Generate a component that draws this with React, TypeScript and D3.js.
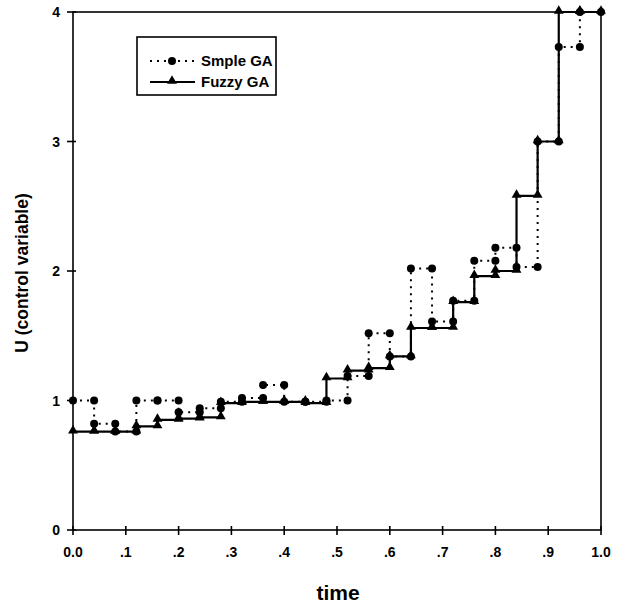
import React from "react";
import * as d3 from "d3";

const timeSteps = [0, 0.04, 0.08, 0.12, 0.16, 0.2, 0.24, 0.28, 0.32, 0.36, 0.4, 0.44, 0.48, 0.52, 0.56, 0.6, 0.64, 0.68, 0.72, 0.76, 0.8, 0.84, 0.88, 0.92, 0.96, 1.0];
const simpleGA = [1.0, 0.82, 0.76, 1.0, 1.0, 0.91, 0.94, 0.99, 1.02, 1.12, 0.99, 0.99, 1.0, 1.19, 1.52, 1.34, 2.02, 1.61, 1.77, 2.08, 2.18, 2.03, 3.0, 3.73, 4.0];
const fuzzyGA = [0.76, 0.76, 0.76, 0.8, 0.85, 0.86, 0.87, 0.98, 0.99, 0.99, 0.99, 0.98, 1.17, 1.23, 1.25, 1.34, 1.56, 1.56, 1.76, 1.96, 2.0, 2.58, 3.0, 4.0, 4.0];
const xTicks = [0, 0.1, 0.2, 0.3, 0.4, 0.5, 0.6, 0.7, 0.8, 0.9, 1.0];
const xTickLabels = ["0.0", ".1", ".2", ".3", ".4", ".5", ".6", ".7", ".8", ".9", "1.0"];
const yTicks = [0, 1, 2, 3, 4];
const seriesNames = ["Smple GA", "Fuzzy GA"];

const W = 631, H = 608;
const font = "'Liberation Sans', Arial, sans-serif";

export default function App() {
  const x = d3.scaleLinear().domain([0, 1]).range([73, 601]);
  const y = d3.scaleLinear().domain([0, 4]).range([530, 12]);

  const stepPts = (vals: number[]) => {
    const pts: [number, number][] = vals.map((v, i) => [timeSteps[i], v]);
    pts.push([timeSteps[vals.length], vals[vals.length - 1]]);
    return pts;
  };
  const markerPts = (vals: number[]) => {
    const pts: [number, number][] = [];
    vals.forEach((v, i) => {
      pts.push([timeSteps[i], v]);
      pts.push([timeSteps[i + 1], v]);
    });
    return pts;
  };
  const line = d3.line<[number, number]>().x(d => x(d[0])).y(d => y(d[1])).curve(d3.curveStepAfter);
  const tri = d3.symbol().type(d3.symbolTriangle).size(42)() as string;

  return (
    <svg width={W} height={H} style={{ position: "absolute", left: 0, top: 0, background: "#fff" }} fontFamily={font}>
      <rect x={0} y={0} width={W} height={H} fill="#fff" />
      {/* frame */}
      <rect x={x(0)} y={y(4)} width={x(1) - x(0)} height={y(0) - y(4)} fill="none" stroke="#000" strokeWidth={1.6} />
      {/* x ticks */}
      {xTicks.map((t, i) => (
        <g key={"xt" + i}>
          <line x1={x(t)} x2={x(t)} y1={y(0) - 4} y2={y(0) + 5} stroke="#000" strokeWidth={1.6} />
          <text x={x(t)} y={557} textAnchor="middle" fontSize={14} fontWeight="bold">{xTickLabels[i]}</text>
        </g>
      ))}
      {/* y ticks */}
      {yTicks.map((t, i) => (
        <g key={"yt" + i}>
          <line x1={x(0) - 6} x2={x(0) + 3} y1={y(t)} y2={y(t)} stroke="#000" strokeWidth={1.6} />
          <text x={60} y={y(t) + 5} textAnchor="end" fontSize={14} fontWeight="bold">{t}</text>
        </g>
      ))}
      {/* axis titles */}
      <text x={338} y={600} textAnchor="middle" fontSize={21} fontWeight="bold">time</text>
      <text transform={`translate(28,${(y(0) + y(4)) / 2 + 2}) rotate(-90)`} textAnchor="middle" fontSize={17.5} fontWeight="bold">U (control variable)</text>

      {/* series lines */}
      <path d={line(stepPts(fuzzyGA)) as string} fill="none" stroke="#000" strokeWidth={2.2} />
      <path d={line(stepPts(simpleGA)) as string} fill="none" stroke="#000" strokeWidth={2} strokeDasharray="2,5" />
      {/* markers */}
      {markerPts(fuzzyGA).map((p, i) => (
        <path key={"ft" + i} d={tri} transform={`translate(${x(p[0])},${y(p[1]) - 1})`} fill="#000" />
      ))}
      {markerPts(simpleGA).map((p, i) => (
        <circle key={"sc" + i} cx={x(p[0])} cy={y(p[1])} r={4} fill="#000" />
      ))}

      {/* legend */}
      <rect x={137} y={37} width={139} height={58} fill="#fff" stroke="#000" strokeWidth={1.6} />
      <line x1={150} x2={195} y1={61} y2={61} stroke="#000" strokeWidth={2} strokeDasharray="2,5" />
      <circle cx={172} cy={61} r={4} fill="#000" />
      <text x={201} y={66} fontSize={15} fontWeight="bold">{seriesNames[0]}</text>
      <line x1={150} x2={195} y1={82} y2={82} stroke="#000" strokeWidth={2.2} />
      <path d={tri} transform={`translate(172,81)`} fill="#000" />
      <text x={201} y={87} fontSize={15} fontWeight="bold">{seriesNames[1]}</text>
    </svg>
  );
}
